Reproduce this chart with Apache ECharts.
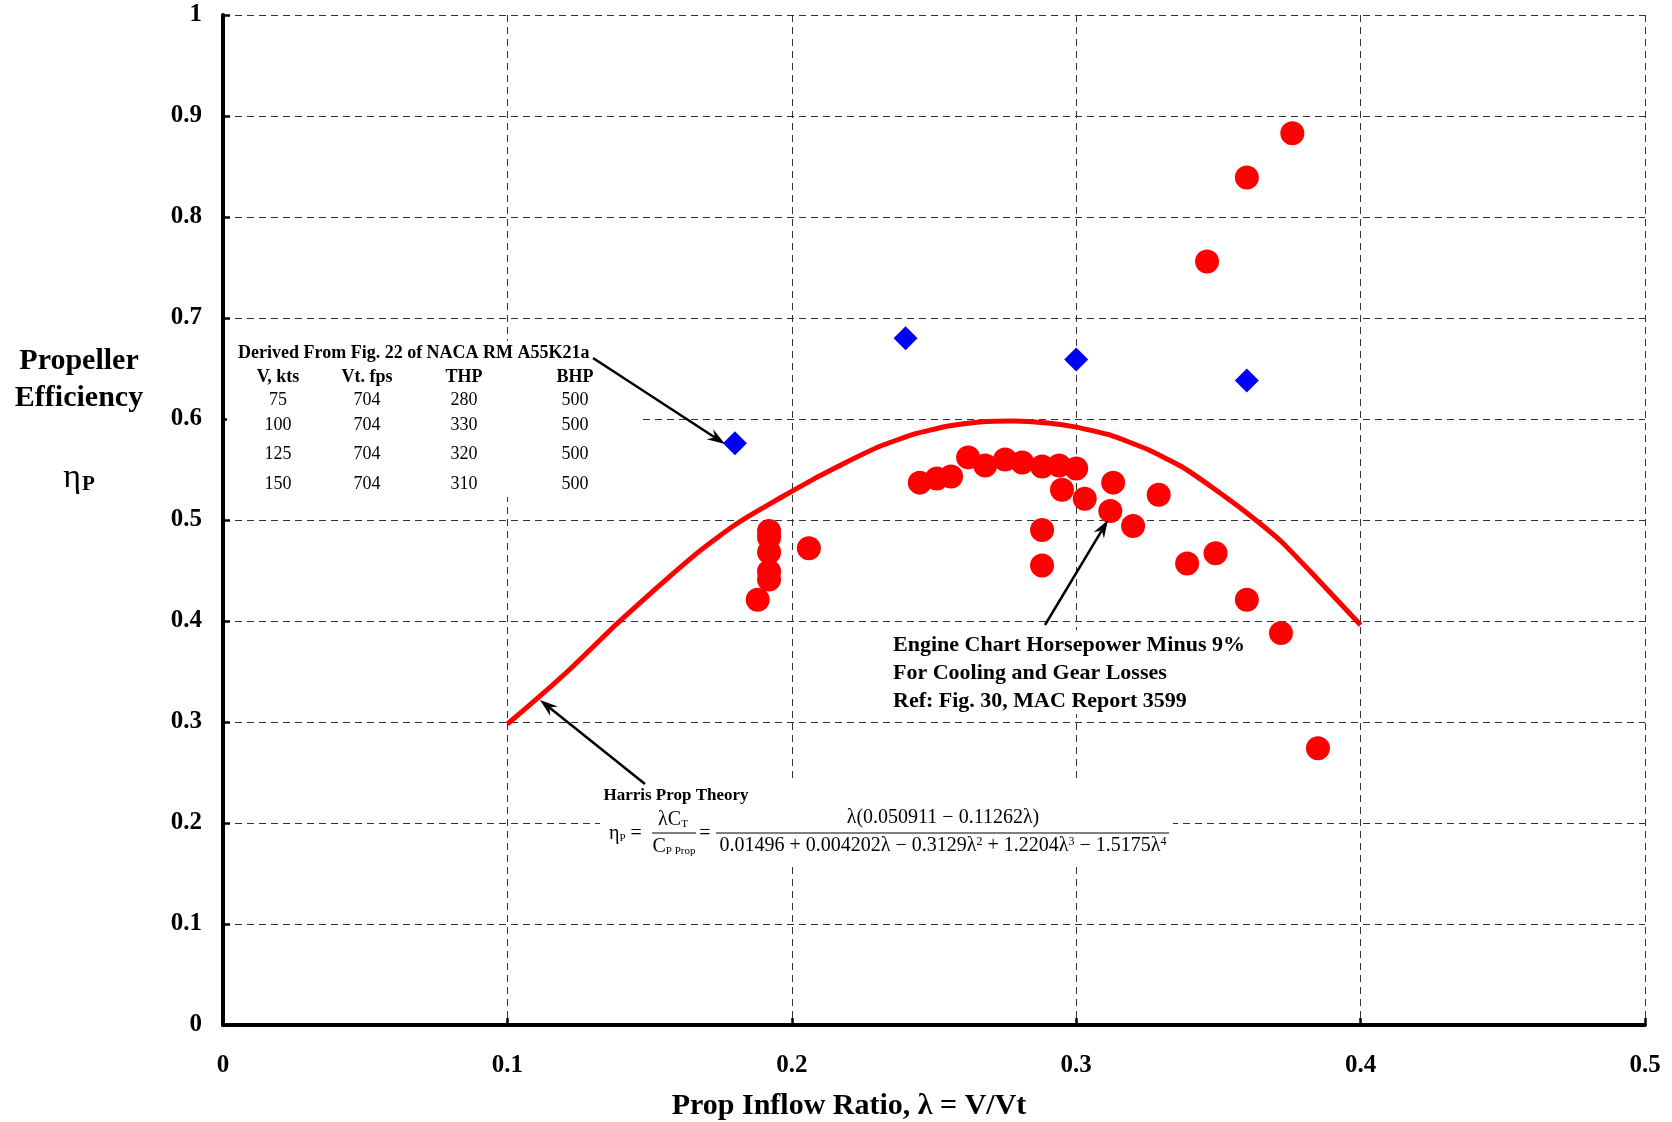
<!DOCTYPE html>
<html><head><meta charset="utf-8">
<script src="https://cdn.jsdelivr.net/npm/echarts@6/dist/echarts.min.js"></script>
<style>html,body{margin:0;padding:0;background:#fff}#c{width:1672px;height:1122px}</style>
</head><body><div id="c"></div>
<script>
// Harris prop theory curve
const curveX = [0.100,0.112,0.123,0.138,0.147,0.157,0.167,0.174,0.181,0.188,0.196,0.208,0.219,0.231,0.243,0.255,0.266,0.278,0.290,0.300,0.312,0.325,0.337,0.348,0.360,0.372,0.383,0.400];
const curveY = [0.298,0.327,0.355,0.396,0.419,0.444,0.468,0.483,0.497,0.509,0.522,0.541,0.557,0.573,0.585,0.593,0.597,0.598,0.596,0.592,0.584,0.570,0.553,0.532,0.507,0.479,0.447,0.396];
// Engine chart horsepower points (red circles)
const engineX = [0.192,0.192,0.192,0.192,0.192,0.188,0.206,0.245,0.251,0.256,0.262,0.268,0.275,0.281,0.288,0.294,0.300,0.295,0.303,0.313,0.312,0.320,0.329,0.288,0.288,0.339,0.349,0.360,0.372,0.385,0.346,0.360,0.376];
const engineY = [0.489,0.483,0.468,0.449,0.441,0.421,0.472,0.537,0.541,0.543,0.562,0.554,0.560,0.557,0.553,0.554,0.551,0.530,0.521,0.537,0.509,0.494,0.525,0.490,0.455,0.457,0.467,0.421,0.388,0.274,0.756,0.839,0.883];
// NACA RM A55K21a points (blue diamonds)
const nacaX = [0.180,0.240,0.300,0.360];
const nacaY = [0.576,0.680,0.659,0.638];
// table text
const tableHeader = ['V, kts','Vt. fps','THP','BHP'];
const tableV = ['75','100','125','150'];
const tableVt = ['704','704','704','704'];
const tableTHP = ['280','330','320','310'];
const tableBHP = ['500','500','500','500'];

const SERIF = '"Liberation Serif","Times New Roman",serif';
const zip = (a,b)=>a.map((v,i)=>[v,b[i]]);

function txt(text,x,y,size,bold,align,extra){
  return Object.assign({type:'text', z:6, style:{text:text,x:x,y:y,fill:'#000',fontSize:size,fontFamily:SERIF,fontWeight:bold?'bold':'normal',
    textAlign:align||'center',align:align||'center',textVerticalAlign:'middle',verticalAlign:'middle'}}, extra||{});
}
function arrow(x1,y1,x2,y2){
  const dx=x2-x1, dy=y2-y1, L=Math.hypot(dx,dy), ux=dx/L, uy=dy/L, px=-uy, py=ux;
  const hl=18, hw=6, notch=12;
  const bx=x2-ux*hl, by=y2-uy*hl, nx=x2-ux*notch, ny=y2-uy*notch;
  return [
    {type:'line', z:6, shape:{x1:x1,y1:y1,x2:nx,y2:ny}, style:{stroke:'#000',lineWidth:2.5}},
    {type:'polygon', z:6, shape:{points:[[x2,y2],[bx+px*hw,by+py*hw],[nx,ny],[bx-px*hw,by-py*hw]]}, style:{fill:'#000'}}
  ];
}

const chart = echarts.init(document.getElementById('c'), null, {renderer:'canvas'});

const graphics = [];
// white boxes masking grid lines behind annotations
graphics.push({type:'rect', z:1, shape:{x:227,y:341,width:411,height:156}, style:{fill:'#fff'}});
graphics.push({type:'rect', z:1, shape:{x:600,y:781,width:573,height:85}, style:{fill:'#fff'}});
graphics.push({type:'rect', z:1, shape:{x:888,y:630,width:290,height:84}, style:{fill:'#fff'}});

// y-axis title
graphics.push(txt('Propeller',79,361,30,true));
graphics.push(txt('Efficiency',79,398,30,true));
graphics.push({type:'text', z:6, style:{text:'{e|η}{p|P}', x:79, y:478, textAlign:'center',align:'center',textVerticalAlign:'middle',verticalAlign:'middle',
  rich:{e:{fontSize:34,fontFamily:SERIF,fill:'#000'}, p:{fontSize:21,fontFamily:SERIF,fontWeight:'bold',fill:'#000',verticalAlign:'bottom',padding:[0,0,0,1]}}}});
// x-axis title
graphics.push(txt('Prop Inflow Ratio, λ = V/Vt',849,1106,30,true));

// table
graphics.push(txt('Derived From Fig. 22 of NACA RM A55K21a',238,353,18,true,'left'));
const colX = [278,367,464,575];
tableHeader.forEach((h,i)=>graphics.push(txt(h,colX[i],377,18,true)));
const rowY = [400,425,454,484];
const cols = [tableV,tableVt,tableTHP,tableBHP];
cols.forEach((col,i)=>col.forEach((v,j)=>graphics.push(txt(v,colX[i],rowY[j],18,false))));
graphics.push(...arrow(593,358,725,444));

// engine chart annotation
graphics.push(txt('Engine Chart Horsepower Minus 9%',893,645,22,true,'left'));
graphics.push(txt('For Cooling and Gear Losses',893,673,22,true,'left'));
graphics.push(txt('Ref: Fig. 30, MAC Report 3599',893,701,22,true,'left'));
graphics.push(...arrow(1045,625,1108,520));

// Harris annotation + formula
graphics.push(txt('Harris Prop Theory',676,796,17,true));
graphics.push(...arrow(645,784,540,700));
const rb = {fontSize:20,fontFamily:SERIF,fill:'#000'};
const rs = {fontSize:11,fontFamily:SERIF,fill:'#000',verticalAlign:'bottom'};
const rp = {fontSize:12,fontFamily:SERIF,fill:'#000',verticalAlign:'top'};
function rt(text,x,y,align){
  return {type:'text', z:6, style:{text:text,x:x,y:y,textAlign:align||'center',align:align||'center',textVerticalAlign:'middle',verticalAlign:'middle',rich:{b:rb,s:rs,p:rp}}};
}
graphics.push(rt('{b|η}{s|P}{b| =}',609,834,'left'));
graphics.push(rt('{b|λC}{s|T}',673,820));
graphics.push({type:'line', z:6, shape:{x1:652,y1:833,x2:696,y2:833}, style:{stroke:'#000',lineWidth:1}});
graphics.push(rt('{b|C}{s|P Prop}',674,847));
graphics.push(rt('{b|=}',705,834));
graphics.push({type:'line', z:6, shape:{x1:716,y1:833,x2:1169,y2:833}, style:{stroke:'#000',lineWidth:1}});
graphics.push(rt('{b|λ(0.050911 − 0.11262λ)}',943,818));
graphics.push(rt('{b|0.01496 + 0.004202λ − 0.3129λ}{p|2}{b| + 1.2204λ}{p|3}{b| − 1.5175λ}{p|4}',943,846));

const axisCommon = {
  type:'value',
  axisLine:{show:true,onZero:false,lineStyle:{color:'#000',width:4}},
  axisTick:{show:true,inside:true,length:7,lineStyle:{color:'#000',width:2.5}},
  splitLine:{show:true,lineStyle:{color:'#333',width:1,type:[7,5]}},
  axisLabel:{color:'#000',fontFamily:SERIF,fontWeight:'bold',fontSize:25}
};

chart.setOption({
  animation:false,
  backgroundColor:'#fff',
  grid:{left:223,right:27,top:15,bottom:97,containLabel:false},
  xAxis:Object.assign({}, axisCommon, {min:0,max:0.5,interval:0.1,
    axisLabel:Object.assign({}, axisCommon.axisLabel,{margin:28})}),
  yAxis:Object.assign({}, axisCommon, {min:0,max:1,interval:0.1,
    axisLabel:Object.assign({}, axisCommon.axisLabel,{margin:21})}),
  series:[
    {type:'line', name:'Harris Prop Theory', data:zip(curveX,curveY), showSymbol:false, symbol:'none', smooth:0.15,
      lineStyle:{color:'#ff0000',width:5}, z:2},
    {type:'scatter', name:'Engine Chart', data:zip(engineX,engineY), symbol:'circle', symbolSize:24,
      itemStyle:{color:'#ff0000',opacity:1}, z:3},
    {type:'scatter', name:'NACA', data:zip(nacaX,nacaY), symbol:'diamond', symbolSize:24,
      itemStyle:{color:'#0000ff',opacity:1}, z:4}
  ],
  graphic:graphics
});
</script></body></html>
